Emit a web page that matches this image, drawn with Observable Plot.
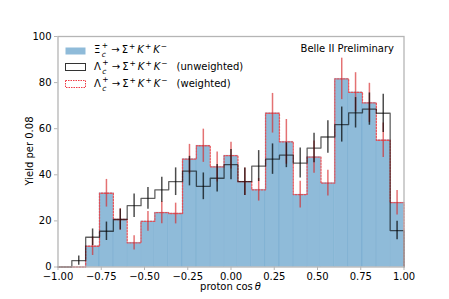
<!DOCTYPE html>
<html>
<head>
<meta charset="utf-8">
<script src="https://cdn.jsdelivr.net/npm/d3@7"></script>
<script src="https://cdn.jsdelivr.net/npm/@observablehq/plot@0.6"></script>
<style>
  body { margin: 0; background: #fff; }
  #wrap { position: relative; width: 449px; height: 299px; font-family: "DejaVu Sans", sans-serif; font-size: 10px; color: #000; }
  .ov { position: absolute; white-space: nowrap; line-height: 1; }
  .sw { position: absolute; width: 21px; height: 7px; box-sizing: border-box; }
  sup { font-size: 7.5px; vertical-align: 0; position: relative; top: -4px; line-height: 0; margin: 0 2px 0 1px; }
  .ss { display: inline-block; position: relative; width: 9px; height: 10px; vertical-align: top; }
  .ss .p { position: absolute; left: 1.5px; top: -3px; font-size: 7.5px; }
  .ss .c { position: absolute; left: 1.5px; top: 6px; font-size: 7.5px; font-style: italic; }
  .ar { margin: 0 2px 0 2px; }
  .gap { display: inline-block; width: 7px; }
</style>
</head>
<body>
<div id="wrap"></div>
<script>
// Bin edges of proton cos(theta), width 0.08
const binEdges = [-1.00,-0.92,-0.84,-0.76,-0.68,-0.60,-0.52,-0.44,-0.36,-0.28,-0.20,-0.12,-0.04,
                  0.04,0.12,0.20,0.28,0.36,0.44,0.52,0.60,0.68,0.76,0.84,0.92,1.00];
// Xi_c+ -> Sigma+ K+ K- yield (filled histogram)
const xiYield = [0,0,9,32,20.6,10.5,19.8,23.6,23.2,46.8,52.6,43.4,48.3,37,33.5,66.7,54.3,31.4,47.7,36.4,81.6,75.8,71.2,55,27.9];
// Lambda_c+ weighted (red dotted) and its errors
const lcWeighted = [0,0,9,32,20.6,10.5,19.8,23.6,23.2,46.8,52.6,43.4,48.3,37,33.5,66.7,54.3,31.4,47.7,36.4,81.6,75.8,71.2,55,27.9];
const lcWeightedErr = [0,0,4,6,4.7,3.1,4.3,4.8,4.5,6.4,7.2,6.5,5.8,6,4.9,8.6,9.7,5.8,7,5.6,9,8.5,8.5,7.5,5.3];
// Lambda_c+ unweighted (black step) and its errors
const lcUnweighted = [0,2.8,12.9,15.5,20.6,26.6,29.8,33.5,37,41.6,35,38.5,44.4,37,43.8,46.8,48.5,45.1,51.6,56.4,61.8,66.9,68.5,66.7,15.8];
const lcUnweightedErr = [0,2,3.6,4,4.5,5.1,4.7,5.4,6,6.4,5.8,6,6.6,6,6.7,6.6,5.4,6.5,6.4,7,7.6,6.6,7,8.3,4];
// Ticks
const xTicks = [-1.00,-0.75,-0.50,-0.25,0.00,0.25,0.50,0.75,1.00];
const yTicks = [0,20,40,60,80,100];

const bins = xiYield.map((v, i) => ({
  x1: binEdges[i], x2: binEdges[i + 1], xc: (binEdges[i] + binEdges[i + 1]) / 2,
  xi: v, w: lcWeighted[i], we: lcWeightedErr[i], u: lcUnweighted[i], ue: lcUnweightedErr[i]
}));
function stepPoints(vals) {
  const pts = [{x: binEdges[0], y: 0}];
  vals.forEach((v, i) => { pts.push({x: binEdges[i], y: v}, {x: binEdges[i + 1], y: v}); });
  pts.push({x: binEdges[binEdges.length - 1], y: 0});
  return pts;
}

const chart = Plot.plot({
  width: 449, height: 299,
  marginLeft: 57.5, marginRight: 45.5, marginTop: 36, marginBottom: 32.5,
  x: {domain: [-1, 1]},
  y: {domain: [0, 100]},
  style: {fontFamily: "DejaVu Sans", fontSize: "10px", background: "white", color: "#000"},
  marks: [
    Plot.rectY(bins, {x1: "x1", x2: "x2", y: "xi", fill: "#8fbbd9", stroke: "rgba(31,119,180,0.13)", strokeWidth: 1, inset: 0}),
    Plot.line(stepPoints(lcWeighted), {x: "x", y: "y", stroke: "#e8474c", strokeDasharray: "1.6,1.4", strokeWidth: 1.3, strokeOpacity: 0.9}),
    Plot.line(stepPoints(lcUnweighted), {x: "x", y: "y", stroke: "#000", strokeOpacity: 0.62, strokeWidth: 1.3}),
    Plot.ruleX(bins.filter(d => d.we > 0), {x: "xc", y1: d => d.w - d.we, y2: d => d.w + d.we, stroke: "#d62728", strokeOpacity: 0.65, strokeWidth: 1.5}),
    Plot.ruleX(bins.filter(d => d.ue > 0), {x: "xc", y1: d => d.u - d.ue, y2: d => d.u + d.ue, stroke: "#000", strokeOpacity: 0.7, strokeWidth: 1.5}),
    Plot.frame({stroke: "#b5b5b5", strokeWidth: 1.3}),
    Plot.axisX({ticks: xTicks, tickFormat: d3.format(".2f"), tickSize: 3.5, tickPadding: 2, stroke: "#b5b5b5", fill: "#000", label: null}),
    Plot.axisY({ticks: yTicks, tickSize: 3.5, tickPadding: 3, stroke: "#b5b5b5", fill: "#000", label: null})
  ]
});
const wrap = document.getElementById("wrap");
wrap.appendChild(chart);

const ov = (html, style) => {
  const d = document.createElement("div");
  d.className = "ov"; d.innerHTML = html; d.setAttribute("style", style);
  wrap.appendChild(d);
};
const sw = (left, top, fill, stroke, dash) => {
  const d = document.createElement("div");
  d.className = "sw"; d.setAttribute("style", `left:${left}px; top:${top}px;`);
  d.innerHTML = `<svg width="21" height="8" style="display:block;overflow:visible"><rect x="0.5" y="0.5" width="20" height="7" fill="${fill}" stroke="${stroke}" stroke-width="1" ${dash ? `stroke-dasharray="${dash}"` : ""}/></svg>`;
  wrap.appendChild(d);
};
const decay = "<span class=\"ar\">\u2192</span>\u03A3<sup>+</sup><i>K</i><sup>+</sup><i>K</i><sup>\u2212</sup>";
const sub = "<span class=\"ss\"><span class=\"p\">+</span><span class=\"c\">c</span></span>";
sw(65, 46.5, "#8fbbd9", "none");
ov("\u039E" + sub + decay, "left:94px; top:45px;");
sw(65, 63, "#fff", "#333");
ov("\u039B" + sub + decay + "<span class=\"gap\"></span>(unweighted)", "left:94px; top:62px;");
sw(65, 80, "#fff", "#ee3b44", "1.5,1");
ov("\u039B" + sub + decay + "<span class=\"gap\"></span>(weighted)", "left:94px; top:79px;");
ov("Belle II Preliminary", "right:55px; top:44px;");
ov("proton cos\u2009<i>\u03B8</i>", "left:230.5px; top:282px; transform:translateX(-50%);");
ov("Yield per 0.08", "left:30px; top:151px; transform:translate(-50%,-50%) rotate(-90deg);");
</script>
</body>
</html>
